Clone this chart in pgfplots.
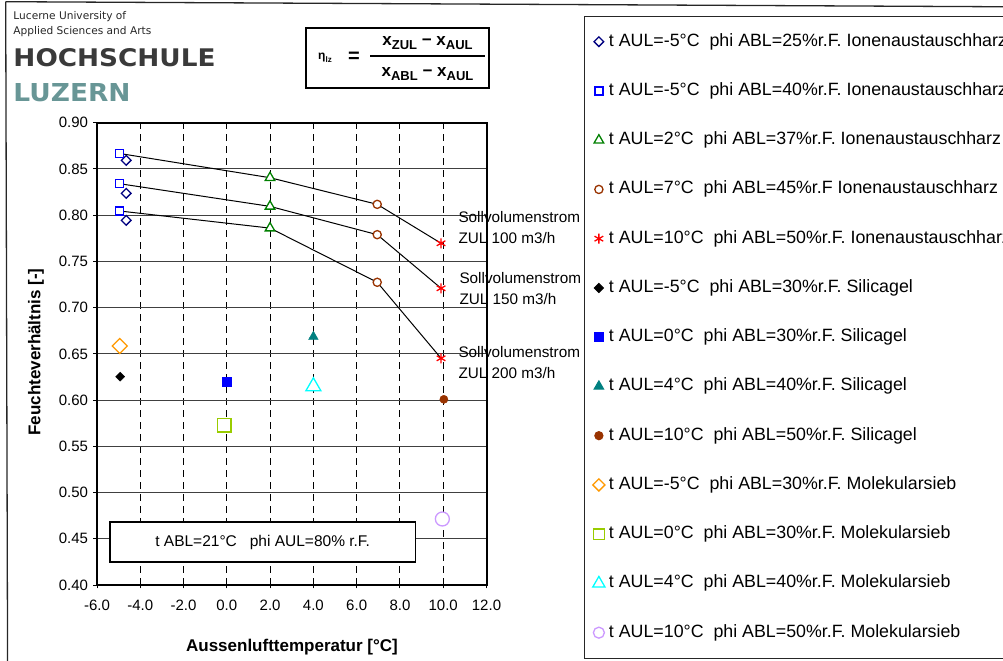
\documentclass[border=0pt]{standalone}
\usepackage{pgfplots}
\pgfplotsset{compat=1.18}
\usepackage{fontspec}
\setmainfont{Liberation Sans}
\newfontfamily\logofont{DejaVu Sans}
\definecolor{cNavy}{RGB}{0,0,128}
\definecolor{cBlue}{RGB}{0,0,255}
\definecolor{cGreen}{RGB}{0,128,0}
\definecolor{cBrown}{RGB}{153,51,0}
\definecolor{cRed}{RGB}{255,0,0}
\definecolor{cTeal}{RGB}{0,128,128}
\definecolor{cOrange}{RGB}{255,153,0}
\definecolor{cLime}{RGB}{153,204,0}
\definecolor{cCyan}{RGB}{0,255,255}
\definecolor{cLav}{RGB}{204,153,255}
\definecolor{logoGray}{RGB}{58,58,58}
\definecolor{logoTeal}{RGB}{104,150,150}
\newcommand{\xs}[1]{x\raisebox{-3.5bp}{\fontsize{13bp}{15bp}\selectfont #1}}
\begin{document}
\begin{tikzpicture}
\useasboundingbox (0,0) rectangle (1003bp,661bp);
\clip (0,0) rectangle (1003bp,661bp);
\begin{axis}[
  at={(97bp,76bp)}, anchor=south west,
  scale only axis, width=389.5bp, height=462.3bp,
  xmin=-6, xmax=12, ymin=0.4, ymax=0.9,
  xtick={-6,-4,-2,0,2,4,6,8,10,12},
  xticklabels={-6.0,-4.0,-2.0,0.0,2.0,4.0,6.0,8.0,10.0,12.0},
  ytick={0.4,0.45,0.5,0.55,0.6,0.65,0.7,0.75,0.8,0.85,0.9},
  yticklabels={0.40,0.45,0.50,0.55,0.60,0.65,0.70,0.75,0.80,0.85,0.90},
  xtick pos=left, ytick pos=left,
  tick align=outside, major tick length=3.5bp,
  major tick style={black, line width=1bp},
  axis line style={black, line width=2bp},
  xmajorgrids, ymajorgrids,
  x grid style={black, dash pattern=on 7bp off 5bp, line width=0.9bp},
  y grid style={black!75, solid, line width=0.9bp},
  tick label style={font=\fontsize{15bp}{18bp}\selectfont},
  xticklabel style={yshift=-8bp},
  yticklabel style={xshift=-2bp},
  clip=false,
  legend cell align=left,
  legend style={
    at={(1.2511,1.2315)}, anchor=north west,
    draw=black!85, line width=1bp,
    font=\fontsize{17.8bp}{20bp}\selectfont,
    inner xsep=8bp, inner ysep=17bp,
    row sep=32.25bp, column sep=4bp,
    nodes={inner sep=0pt, text height=13bp, text depth=4bp},
  },
  legend image code/.code={\draw[#1] plot coordinates {(0bp,0bp)};},
]
% connecting lines (Sollvolumenstrom 100 / 150 / 200 m3/h)
\addplot[forget plot, black, line width=1bp, mark=none] coordinates {(-4.95,0.8667) (1.995,0.8405) (6.95,0.8117) (9.9,0.7696)};
\addplot[forget plot, black, line width=1bp, mark=none] coordinates {(-4.95,0.8340) (1.995,0.8095) (6.95,0.7789) (9.9,0.7209)};
\addplot[forget plot, black, line width=1bp, mark=none] coordinates {(-4.95,0.8045) (1.995,0.7860) (6.95,0.7274) (9.9,0.6452)};
% Ionenaustauschharz
\addplot[only marks, color=cNavy, mark=square*, mark size=3.4bp, mark options={rotate=45, draw=cNavy, fill=white, line width=1.3bp}] coordinates {(-4.65,0.8593) (-4.65,0.8236) (-4.65,0.7944)};
\addlegendentry{t AUL=-5°C~~phi ABL=25\%r.F. Ionenaustauschharz}
\addplot[only marks, color=cBlue, mark=square*, mark size=4bp, mark options={draw=cBlue, fill=white, line width=1.3bp}] coordinates {(-4.95,0.8667) (-4.95,0.8340) (-4.95,0.8045)};
\addlegendentry{t AUL=-5°C~~phi ABL=40\%r.F. Ionenaustauschharz}
\addplot[only marks, color=cGreen, mark=triangle*, mark size=5.5bp, mark options={draw=cGreen, fill=white, line width=1.3bp}] coordinates {(1.995,0.8405) (1.995,0.8095) (1.995,0.7860)};
\addlegendentry{t AUL=2°C~~phi ABL=37\%r.F. Ionenaustauschharz}
\addplot[only marks, color=cBrown, mark=*, mark size=4.1bp, mark options={draw=cBrown, fill=white, line width=1.3bp}] coordinates {(6.95,0.8117) (6.95,0.7789) (6.95,0.7274)};
\addlegendentry{t AUL=7°C~~phi ABL=45\%r.F Ionenaustauschharz}
\addplot[only marks, color=cRed, mark=asterisk, mark size=5bp, mark options={line width=1.3bp}] coordinates {(9.9,0.7696) (9.9,0.7209) (9.9,0.6452)};
\addlegendentry{t AUL=10°C~~phi ABL=50\%r.F. Ionenaustauschharz}
% Silicagel
\addplot[only marks, color=black, mark=square*, mark size=3.2bp, mark options={rotate=45}] coordinates {(-4.93,0.6253)};
\addlegendentry{t AUL=-5°C~~phi ABL=30\%r.F. Silicagel}
\addplot[only marks, color=cBlue, mark=square*, mark size=4.2bp] coordinates {(0.0,0.6199)};
\addlegendentry{t AUL=0°C~~phi ABL=30\%r.F. Silicagel}
\addplot[only marks, color=cTeal, mark=triangle*, mark size=5.6bp] coordinates {(4.0,0.6685)};
\addlegendentry{t AUL=4°C~~phi ABL=40\%r.F. Silicagel}
\addplot[only marks, color=cBrown, mark=*, mark size=4.1bp] coordinates {(10.03,0.6008)};
\addlegendentry{t AUL=10°C~~phi ABL=50\%r.F. Silicagel}
% Molekularsieb
\addplot[forget plot, only marks, color=cOrange, mark=square*, mark size=5.3bp, mark options={rotate=45, draw=cOrange, fill=white, line width=1.3bp}] coordinates {(-4.95,0.6585)};
\addlegendimage{only marks, color=cOrange, mark=square*, mark size=4.3bp, mark options={rotate=45, draw=cOrange, fill=white, line width=1.3bp}}
\addlegendentry{t AUL=-5°C~~phi ABL=30\%r.F. Molekularsieb}
\addplot[forget plot, only marks, color=cLime, mark=square*, mark size=6.8bp, mark options={draw=cLime, fill=white, line width=1.3bp}] coordinates {(-0.12,0.5727)};
\addlegendimage{only marks, color=cLime, mark=square*, mark size=5.3bp, mark options={draw=cLime, fill=white, line width=1.3bp}}
\addlegendentry{t AUL=0°C~~phi ABL=30\%r.F. Molekularsieb}
\addplot[forget plot, only marks, color=cCyan, mark=triangle*, mark size=8.7bp, mark options={draw=cCyan, fill=white, line width=1.3bp}] coordinates {(4.0,0.6147)};
\addlegendimage{only marks, color=cCyan, mark=triangle*, mark size=7bp, mark options={draw=cCyan, fill=white, line width=1.3bp}}
\addlegendentry{t AUL=4°C~~phi ABL=40\%r.F. Molekularsieb}
\addplot[forget plot, only marks, color=cLav, mark=*, mark size=7bp, mark options={draw=cLav, fill=white, line width=1.3bp}] coordinates {(9.96,0.4714)};
\addlegendimage{only marks, color=cLav, mark=*, mark size=5.5bp, mark options={draw=cLav, fill=white, line width=1.3bp}}
\addlegendentry{t AUL=10°C~~phi ABL=50\%r.F. Molekularsieb}
\end{axis}
\begin{scope}[x=1bp, y=-1bp, yshift=661bp]
  % outer frame
  \draw[line width=1.3bp, black!85] (5.7,1.7) -- (1010,6.8);
  \draw[line width=1.3bp, black!85] (5.7,1.7) -- (7.6,670);
  % logo
  \node[anchor=base west, inner sep=0, font=\logofont\fontsize{10.6bp}{12bp}\selectfont, text=black!85] at (13.3,20) {Lucerne University of};
  \node[anchor=base west, inner sep=0, font=\logofont\fontsize{10.6bp}{12bp}\selectfont, text=black!85] at (13.3,34.3) {Applied Sciences and Arts};
  \node[anchor=south west, inner sep=0, text=logoGray] at (13.3,66.7) {\resizebox{202bp}{18bp}{\logofont\bfseries HOCHSCHULE}};
  \node[anchor=south west, inner sep=0, text=logoTeal] at (13.3,101.7) {\resizebox{117bp}{18bp}{\logofont\bfseries LUZERN}};
  % formula
  \draw[line width=1.3bp] (306,28) rectangle (489,88);
  \node[inner sep=0, font=\bfseries\fontsize{12bp}{14bp}\selectfont] at (325,58) {η\raisebox{-2.5bp}{\fontsize{8bp}{9bp}\selectfont lz}};
  \node[inner sep=0, font=\bfseries\fontsize{20bp}{22bp}\selectfont] at (354,57) {=};
  \draw[line width=1.6bp] (370,56) -- (485,56);
  \node[inner sep=0, font=\bfseries\fontsize{17bp}{20bp}\selectfont] at (427.5,43) {\xs{ZUL}~−~\xs{AUL}};
  \node[inner sep=0, font=\bfseries\fontsize{17bp}{20bp}\selectfont] at (427.5,74) {\xs{ABL}~−~\xs{AUL}};
  % condition box
  \draw[line width=1.3bp, fill=white] (110,522) rectangle (415.3,562);
  \node[inner sep=0, font=\fontsize{15.5bp}{18bp}\selectfont] at (262.7,542) {t ABL=21°C~~~phi AUL=80\% r.F.};
  % Sollvolumenstrom labels
  \begin{scope}[every node/.style={anchor=base west, inner sep=0, font=\fontsize{15.3bp}{18bp}\selectfont}]
    \node at (458.3,222.2) {Sollvolumenstrom};
    \node at (458.3,243.8) {ZUL 100 m3/h};
    \node at (459.3,283.8) {Sollvolumenstrom};
    \node at (459.3,304.8) {ZUL 150 m3/h};
    \node at (458.3,357.2) {Sollvolumenstrom};
    \node at (458.3,378.2) {ZUL 200 m3/h};
  \end{scope}
  % axis labels
  \node[rotate=90, inner sep=0, font=\bfseries\fontsize{17bp}{20bp}\selectfont] at (36,352) {Feuchteverhältnis [-]};
  \node[inner sep=0, font=\bfseries\fontsize{17bp}{20bp}\selectfont] at (292,647) {Aussenlufttemperatur [°C]};
\end{scope}
\end{tikzpicture}
\end{document}
